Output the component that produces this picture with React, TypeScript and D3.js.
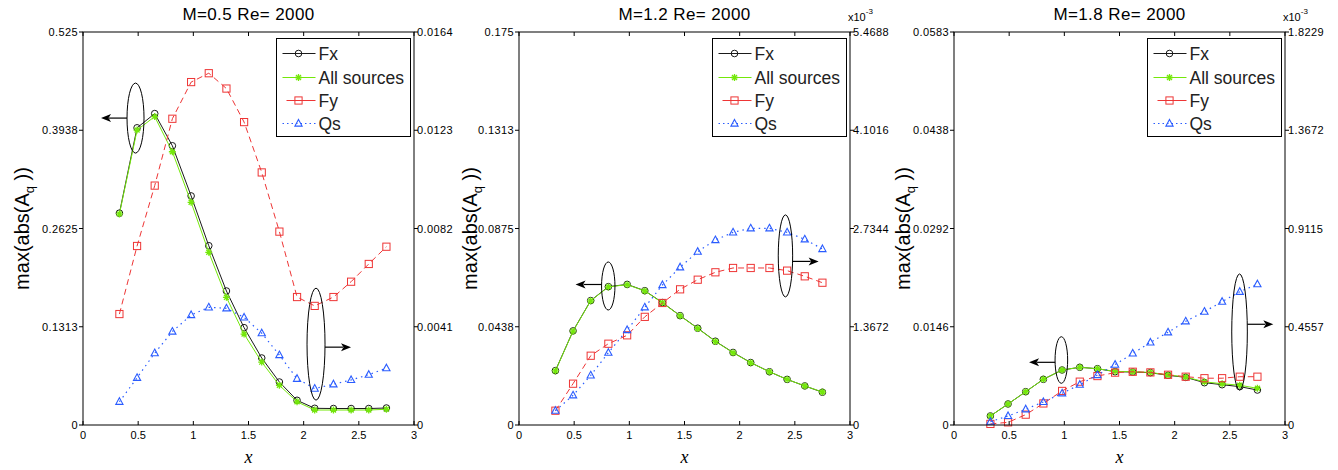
import React from 'react';
import * as d3 from 'd3';

const X = [0.33, 0.49, 0.65, 0.81, 0.98, 1.14, 1.30, 1.46, 1.62, 1.78, 1.94, 2.10, 2.27, 2.43, 2.59, 2.75];

const titles = ['M=0.5 Re= 2000', 'M=1.2 Re= 2000', 'M=1.8 Re= 2000'];
const leftMax = [0.525, 0.175, 0.0583];
const rightMax = [0.0164, 5.4688, 1.8229];
const leftTickLabels = [
  ['0', '0.1313', '0.2625', '0.3938', '0.525'],
  ['0', '0.0438', '0.0875', '0.1313', '0.175'],
  ['0', '0.0146', '0.0292', '0.0438', '0.0583'],
];
const rightTickLabels = [
  ['0', '0.0041', '0.0082', '0.0123', '0.0164'],
  ['0', '1.3672', '2.7344', '4.1016', '5.4688'],
  ['0', '0.4557', '0.9115', '1.3672', '1.8229'],
];
const rightExponent = [false, true, true];
const xTickValues = [0, 0.5, 1, 1.5, 2, 2.5, 3];
const xTickLabels = ['0', '0.5', '1', '1.5', '2', '2.5', '3'];
const seriesNames = ['Fx', 'All sources', 'Fy', 'Qs'];

// Panel 1 (M=0.5)
const fx1 = [0.283, 0.397, 0.416, 0.373, 0.306, 0.2395, 0.179, 0.130, 0.0895, 0.0574, 0.033, 0.0223, 0.022, 0.022, 0.022, 0.0227];
const all1 = [0.282, 0.394, 0.412, 0.365, 0.2975, 0.2307, 0.1705, 0.1215, 0.084, 0.053, 0.031, 0.020, 0.020, 0.020, 0.020, 0.021];
const fy1 = [0.00463, 0.00747, 0.00999, 0.01278, 0.01431, 0.01468, 0.01404, 0.01264, 0.01054, 0.00807, 0.00534, 0.00497, 0.00534, 0.00598, 0.00672, 0.00744];
const qs1 = [0.00097, 0.00197, 0.0030, 0.0039, 0.00459, 0.00491, 0.00487, 0.00449, 0.00383, 0.00292, 0.00193, 0.00152, 0.0017, 0.00188, 0.0021, 0.00237];

// Panel 2 (M=1.2), right axis in units of 1e-3
const fx2 = [0.0242, 0.0419, 0.0554, 0.0616, 0.0626, 0.0598, 0.0545, 0.0487, 0.0431, 0.0373, 0.0323, 0.0278, 0.0237, 0.0203, 0.0174, 0.0146];
const all2 = [0.0241, 0.0418, 0.0553, 0.0615, 0.0625, 0.0597, 0.0544, 0.0486, 0.0430, 0.0372, 0.0322, 0.0277, 0.0237, 0.0203, 0.0174, 0.0147];
const fy2 = [0.199, 0.575, 0.964, 1.131, 1.248, 1.505, 1.698, 1.888, 2.022, 2.125, 2.185, 2.185, 2.185, 2.148, 2.069, 1.98];
const qs2 = [0.199, 0.413, 0.691, 1.006, 1.322, 1.638, 1.948, 2.195, 2.412, 2.574, 2.681, 2.737, 2.737, 2.681, 2.584, 2.449];

// Panel 3 (M=1.8), right axis in units of 1e-3
const fx3 = [0.00134, 0.00312, 0.00494, 0.00678, 0.00816, 0.00856, 0.00835, 0.00791, 0.00786, 0.00776, 0.00737, 0.00707, 0.00628, 0.00598, 0.00569, 0.00519];
const all3 = [0.00134, 0.00312, 0.00494, 0.00678, 0.00816, 0.00856, 0.00835, 0.00795, 0.00790, 0.00780, 0.00742, 0.00712, 0.00640, 0.00612, 0.00590, 0.00544];
const fy3 = [0.005, 0.0124, 0.048, 0.10, 0.158, 0.201, 0.227, 0.243, 0.247, 0.244, 0.233, 0.224, 0.217, 0.217, 0.224, 0.224];
const qs3 = [0.0155, 0.042, 0.073, 0.107, 0.147, 0.187, 0.232, 0.280, 0.332, 0.383, 0.430, 0.481, 0.526, 0.572, 0.618, 0.653];

const panelsData = [
  { fx: fx1, all: all1, fy: fy1, qs: qs1 },
  { fx: fx2, all: all2, fy: fy2, qs: qs2 },
  { fx: fx3, all: all3, fy: fy3, qs: qs3 },
];

// annotation ellipses in data coords (x, left-axis value); rx/ry in px
const annotations = [
  [
    { cx: 0.476, cy: 0.410, rx: 8.5, ry: 35, dir: -1, dy: 0 },
    { cx: 2.112, cy: 0.108, rx: 9, ry: 56, dir: 1, dy: 3 },
  ],
  [
    { cx: 0.809, cy: 0.0619, rx: 6.7, ry: 24, dir: -1, dy: -1.5 },
    { cx: 2.415, cy: 0.0753, rx: 7.2, ry: 41, dir: 1, dy: 5.5 },
  ],
  [
    { cx: 0.973, cy: 0.00964, rx: 6.3, ry: 23.3, dir: -1, dy: 2.3 },
    { cx: 2.588, cy: 0.0138, rx: 7.8, ry: 58, dir: 1, dy: -7.7 },
  ],
];

const panelLefts = [83, 519, 954];
const panelW = 331;
const top = 32;
const bottom = 425;
const ylabelX = [22, 470, 903];

const FONT = '"Liberation Sans", Arial, Helvetica, sans-serif';
const C_FX = '#1a1a1a';
const C_ALL = '#74e80a';
const C_FY = '#ee3535';
const C_QS = '#2a5cff';

function Marker({ kind, x, y }: { kind: string; x: number; y: number }) {
  if (kind === 'circle') return <circle cx={x} cy={y} r={3.3} fill="none" stroke={C_FX} strokeWidth={1} />;
  if (kind === 'star')
    return (
      <path
        transform={`translate(${x},${y})`}
        d="M-3.5,0H3.5M0,-3.5V3.5M-2.5,-2.5L2.5,2.5M-2.5,2.5L2.5,-2.5"
        stroke={C_ALL}
        strokeWidth={1.3}
        fill="none"
      />
    );
  if (kind === 'square')
    return <rect x={x - 3.6} y={y - 3.6} width={7.2} height={7.2} fill="none" stroke={C_FY} strokeWidth={1} />;
  return (
    <path
      transform={`translate(${x},${y})`}
      d="M0,-4L3.6,2.6L-3.6,2.6Z"
      fill="none"
      stroke={C_QS}
      strokeWidth={1.1}
    />
  );
}

function Panel({ idx }: { idx: number }) {
  const L = panelLefts[idx];
  const R = L + panelW;
  const x = d3.scaleLinear().domain([0, 3]).range([L, R]);
  const yl = d3.scaleLinear().domain([0, leftMax[idx]]).range([bottom, top]);
  const yr = d3.scaleLinear().domain([0, rightMax[idx]]).range([bottom, top]);
  const d = panelsData[idx];
  const lineL = d3.line<number>().x((_, i) => x(X[i])).y((v) => yl(v));
  const lineR = d3.line<number>().x((_, i) => x(X[i])).y((v) => yr(v));
  const ticks4 = [0, 1, 2, 3, 4];
  const cx = (L + R) / 2;

  const series = [
    { vals: d.fx, line: lineL, scale: yl, color: C_FX, dash: undefined, kind: 'circle', w: 1 },
    { vals: d.all, line: lineL, scale: yl, color: C_ALL, dash: undefined, kind: 'star', w: 1 },
    { vals: d.fy, line: lineR, scale: yr, color: C_FY, dash: '6,4', kind: 'square', w: 1 },
    { vals: d.qs, line: lineR, scale: yr, color: C_QS, dash: '1.5,4', kind: 'tri', w: 1.2 },
  ];

  const legX = R - 3.5 - 134;
  const legY = 38.5;
  const legRows = [15, 39, 62, 85];
  const legKinds = ['circle', 'star', 'square', 'tri'];
  const legColors = [C_FX, C_ALL, C_FY, C_QS];
  const legDash = [undefined, undefined, undefined, '1.5,3'];

  return (
    <g>
      <text x={cx} y={20} textAnchor="middle" fontFamily={FONT} fontSize={17} letterSpacing={0.4} fill="#000">
        {titles[idx]}
      </text>
      {/* series */}
      {series.map((s, si) => (
        <g key={si}>
          <path d={s.line(s.vals) || ''} fill="none" stroke={s.color} strokeWidth={s.w} strokeDasharray={s.dash} />
          {s.vals.map((v, i) => (
            <Marker key={i} kind={s.kind} x={x(X[i])} y={s.scale(v)} />
          ))}
        </g>
      ))}
      {/* annotations */}
      {annotations[idx].map((a, ai) => {
        const ex = x(a.cx);
        const ey = yl(a.cy);
        const startX = ex + a.dir * a.rx;
        const endX = startX + a.dir * 26;
        const ay = ey + a.dy;
        return (
          <g key={ai}>
            <ellipse cx={ex} cy={ey} rx={a.rx} ry={a.ry} fill="none" stroke="#000" strokeWidth={1} />
            <line x1={startX} y1={ay} x2={endX - a.dir * 8} y2={ay} stroke="#000" strokeWidth={1.2} />
            <path
              d={`M${endX},${ay}L${endX - a.dir * 10},${ay - 4}L${endX - a.dir * 7.5},${ay}L${endX - a.dir * 10},${ay + 4}Z`}
              fill="#000"
            />
          </g>
        );
      })}
      {/* box */}
      <rect x={L} y={top} width={panelW} height={bottom - top} fill="none" stroke="#000" strokeWidth={1} />
      {/* x ticks */}
      {xTickValues.map((t, i) => (
        <g key={i}>
          <line x1={x(t)} x2={x(t)} y1={bottom} y2={bottom - 4} stroke="#000" />
          <line x1={x(t)} x2={x(t)} y1={top} y2={top + 4} stroke="#000" />
          <text x={x(t)} y={439} textAnchor="middle" fontFamily={FONT} fontSize={11} fill="#000">
            {xTickLabels[i]}
          </text>
        </g>
      ))}
      {/* left ticks */}
      {ticks4.map((i) => {
        const v = (leftMax[idx] * i) / 4;
        return (
          <g key={i}>
            <line x1={L} x2={L - 4} y1={yl(v)} y2={yl(v)} stroke="#000" />
            <text x={L - 5} y={yl(v) + 4} textAnchor="end" fontFamily={FONT} fontSize={11} letterSpacing={0.4} fill="#000">
              {leftTickLabels[idx][i]}
            </text>
          </g>
        );
      })}
      {/* right ticks */}
      {ticks4.map((i) => {
        const v = (rightMax[idx] * i) / 4;
        return (
          <g key={i}>
            <line x1={R} x2={R + 4} y1={yr(v)} y2={yr(v)} stroke="#000" />
            <text x={R + 3} y={yr(v) + 4} textAnchor="start" fontFamily={FONT} fontSize={11} letterSpacing={0.4} fill="#000">
              {rightTickLabels[idx][i]}
            </text>
          </g>
        );
      })}
      {rightExponent[idx] && (
        <text x={R - 2} y={21} fontFamily={FONT} fontSize={11} fill="#000">
          x10
          <tspan dy={-7} fontSize={8}>
            -3
          </tspan>
        </text>
      )}
      {/* axis labels */}
      <text
        x={cx}
        y={463}
        textAnchor="middle"
        fontFamily='"Liberation Serif", "DejaVu Serif", serif'
        fontStyle="italic"
        fontSize={18}
        fill="#000"
      >
        x
      </text>
      <text
        transform={`translate(${ylabelX[idx] + 7},${(top + bottom) / 2}) rotate(-90)`}
        textAnchor="middle"
        fontFamily={FONT}
        fontSize={20}
        fill="#000"
      >
        max(abs(A
        <tspan fontSize={13} dy={5}>
          q
        </tspan>
        <tspan dy={-5}> ))</tspan>
      </text>
      {/* legend */}
      <rect x={legX} y={legY} width={134} height={98} fill="#fff" stroke="#000" strokeWidth={1} />
      {seriesNames.map((name, i) => {
        const ry = legY + legRows[i];
        const lx1 = legX + (i === 2 ? 10 : 6);
        return (
          <g key={i}>
            <line x1={lx1} x2={legX + 39} y1={ry} y2={ry} stroke={legColors[i]} strokeWidth={1} strokeDasharray={legDash[i]} />
            <Marker kind={legKinds[i]} x={legX + 22} y={ry} />
            <text x={legX + 42} y={ry + 6.5} fontFamily={FONT} fontSize={17.5} fill="#222">
              {name}
            </text>
          </g>
        );
      })}
    </g>
  );
}

export default function App() {
  return (
    <svg
      width={1338}
      height={470}
      style={{ position: 'absolute', left: 0, top: 0, background: '#fff' }}
    >
      <rect width={1338} height={470} fill="#fff" />
      {[0, 1, 2].map((i) => (
        <Panel key={i} idx={i} />
      ))}
    </svg>
  );
}
